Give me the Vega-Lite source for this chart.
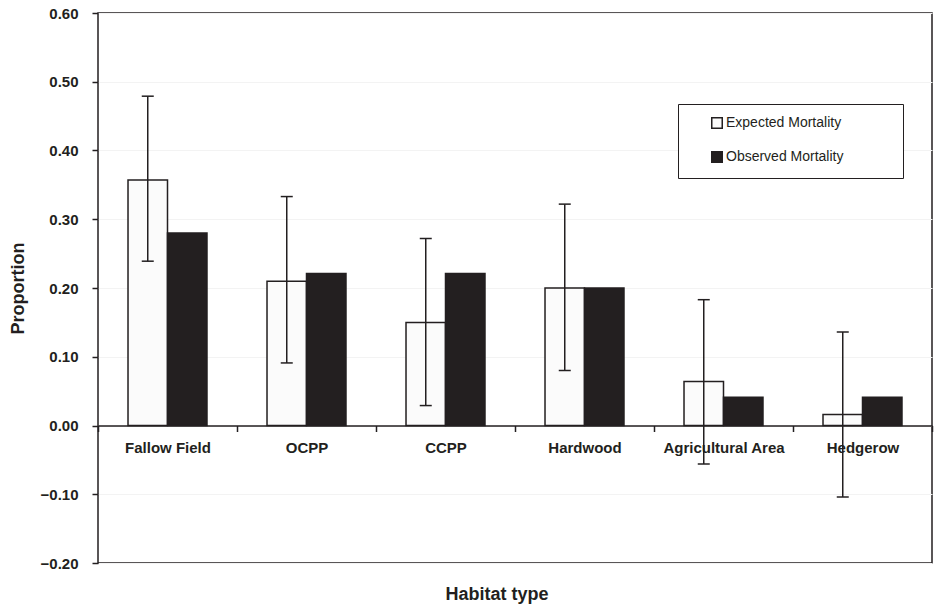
{
  "$schema": "https://vega.github.io/schema/vega-lite/v6.json",
  "width": 834,
  "height": 550,
  "autosize": "none",
  "padding": {"left": 98, "top": 13, "right": 5, "bottom": 45},
  "background": "white",
  "title": {"text": "Habitat type", "orient": "bottom", "anchor": "middle", "dx": -18, "offset": 15, "font": "Liberation Sans", "fontSize": 18, "fontWeight": "bold", "color": "#231f20"},
  "data": {"values": [
    {"habitat": "Fallow Field", "type": "Expected Mortality", "value": 0.357, "lo": 0.239, "hi": 0.479},
    {"habitat": "Fallow Field", "type": "Observed Mortality", "value": 0.28},
    {"habitat": "OCPP", "type": "Expected Mortality", "value": 0.21, "lo": 0.091, "hi": 0.333},
    {"habitat": "OCPP", "type": "Observed Mortality", "value": 0.221},
    {"habitat": "CCPP", "type": "Expected Mortality", "value": 0.15, "lo": 0.029, "hi": 0.272},
    {"habitat": "CCPP", "type": "Observed Mortality", "value": 0.221},
    {"habitat": "Hardwood", "type": "Expected Mortality", "value": 0.2, "lo": 0.08, "hi": 0.322},
    {"habitat": "Hardwood", "type": "Observed Mortality", "value": 0.2},
    {"habitat": "Agricultural Area", "type": "Expected Mortality", "value": 0.064, "lo": -0.056, "hi": 0.183},
    {"habitat": "Agricultural Area", "type": "Observed Mortality", "value": 0.041},
    {"habitat": "Hedgerow", "type": "Expected Mortality", "value": 0.016, "lo": -0.104, "hi": 0.136},
    {"habitat": "Hedgerow", "type": "Observed Mortality", "value": 0.041}
  ]},
  "encoding": {
    "x": {
      "field": "habitat", "type": "nominal",
      "sort": ["Fallow Field", "OCPP", "CCPP", "Hardwood", "Agricultural Area", "Hedgerow"],
      "scale": {"paddingInner": 0, "paddingOuter": 0},
      "axis": {
        "title": null, "orient": "bottom", "offset": -137.5, "labelAngle": 0,
        "domainColor": "#231f20", "domainWidth": 1.5,
        "tickBand": "extent", "tickSize": 6, "tickWidth": 1.5, "tickColor": "#231f20",
        "labelFont": "Liberation Sans", "labelFontSize": 15, "labelFontWeight": "bold", "labelColor": "#231f20",
        "labelPadding": 9, "labelBaseline": "top"
      }
    },
    "xOffset": {"field": "type", "type": "nominal", "scale": {"paddingOuter": 0.76, "paddingInner": 0}}
  },
  "layer": [
    {
      "mark": {"type": "bar", "stroke": "#231f20", "strokeWidth": 1.5},
      "encoding": {
        "y": {
          "field": "value", "type": "quantitative",
          "scale": {"domain": [-0.2, 0.6], "nice": false, "zero": false},
          "axis": {
            "title": "Proportion", "values": [-0.2, -0.1, 0, 0.1, 0.2, 0.3, 0.4, 0.5, 0.6], "format": ".2f",
            "titleFont": "Liberation Sans", "titleFontSize": 18, "titleFontWeight": "bold", "titleColor": "#231f20", "titlePadding": 13,
            "labelFont": "Liberation Sans", "labelFontSize": 15, "labelFontWeight": "bold", "labelColor": "#231f20", "labelPadding": 14,
            "tickSize": 6, "tickWidth": 1.5, "tickColor": "#231f20",
            "domain": false, "grid": true, "gridColor": "#f3f3f3", "gridWidth": 1
          }
        },
        "color": {
          "field": "type", "type": "nominal",
          "scale": {"domain": ["Expected Mortality", "Observed Mortality"], "range": ["#fbfbfb", "#231f20"]},
          "legend": {
            "title": null, "orient": "none", "legendX": 580, "legendY": 91,
            "symbolType": "square", "symbolSize": 110, "symbolStrokeColor": "#231f20", "symbolStrokeWidth": 1.5, "symbolOpacity": 1,
            "labelFont": "Liberation Sans", "labelFontSize": 14, "labelColor": "#231f20", "labelOffset": 2,
            "labelExpr": "datum.label + '\u2007\u2007\u2007\u2007\u2007\u2007\u200b'",
            "labelLimit": 400,
            "padding": 12, "symbolOffset": 20, "rowPadding": 16,
            "strokeColor": "#231f20", "fillColor": "white"
          }
        }
      }
    },
    {
      "transform": [{"filter": "isValid(datum.lo)"}],
      "mark": {"type": "rule", "color": "#231f20", "strokeWidth": 1.5},
      "encoding": {
        "y": {"field": "lo", "type": "quantitative"},
        "y2": {"field": "hi"}
      }
    },
    {
      "transform": [{"filter": "isValid(datum.lo)"}],
      "mark": {"type": "tick", "color": "#231f20", "thickness": 1.5, "size": 12, "orient": "horizontal", "opacity": 1},
      "encoding": {"y": {"field": "lo", "type": "quantitative"}}
    },
    {
      "transform": [{"filter": "isValid(datum.hi)"}],
      "mark": {"type": "tick", "color": "#231f20", "thickness": 1.5, "size": 12, "orient": "horizontal", "opacity": 1},
      "encoding": {"y": {"field": "hi", "type": "quantitative"}}
    }
  ],
  "config": {
    "view": {"stroke": "#231f20", "strokeWidth": 1.5},
    "font": "Liberation Sans"
  }
}
